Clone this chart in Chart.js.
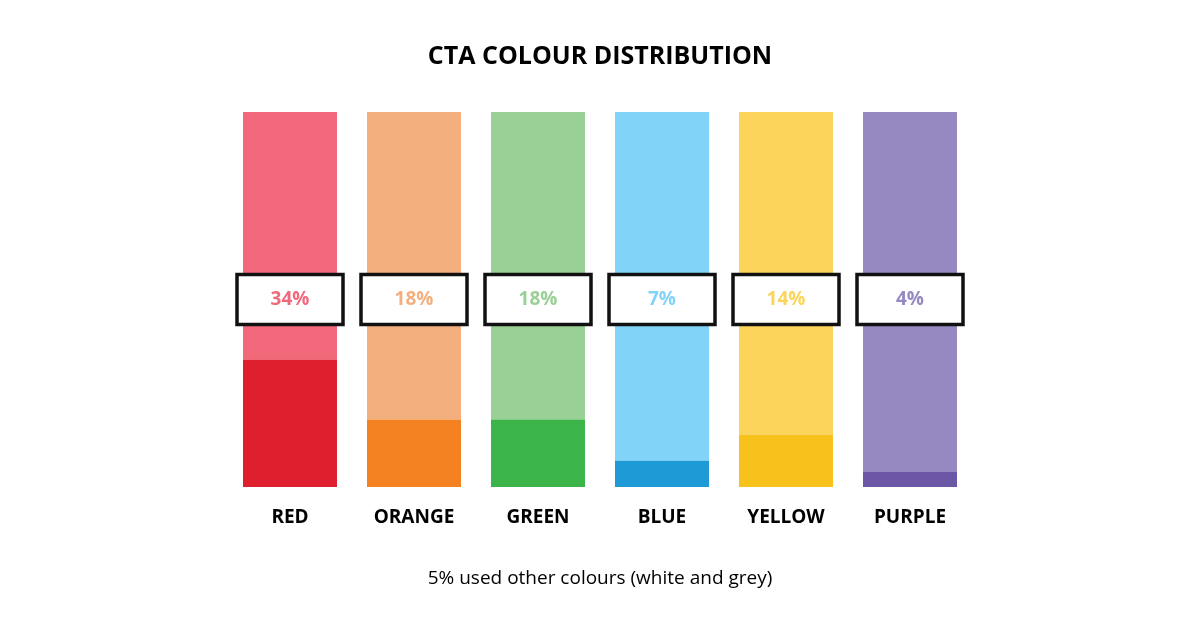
<!DOCTYPE html>
<html>
<head>
<meta charset="utf-8">
<script src="https://cdn.jsdelivr.net/npm/chart.js@4"></script>
<style>
  html, body { margin: 0; padding: 0; background: #fff; }
  #wrap { width: 1200px; height: 627px; position: relative; }
</style>
</head>
<body>
<div id="wrap"><canvas id="ctaChart"></canvas></div>
<script>
const categories = ['RED', 'ORANGE', 'GREEN', 'BLUE', 'YELLOW', 'PURPLE'];
const shares = [34, 18, 18, 7, 14, 4];
const darkColours = ['#df1f2d', '#f58220', '#3bb54a', '#1e9ad6', '#f8c21c', '#6b57a5'];
const lightColours = ['#f2697c', '#f4af7f', '#99d095', '#81d4f7', '#fcd45c', '#9688c1'];

const labelsPlugin = {
    id: 'ctaLabels',
    afterDraw(chart) {
        const ctx = chart.ctx;
        const x = chart.scales.x;
        const y = chart.scales.y;
        const midY = y.getPixelForValue(50);
        ctx.save();
        ctx.textAlign = 'center';
        ctx.textBaseline = 'middle';

        ctx.fillStyle = '#000';
        ctx.font = 'bold 25px "Open Sans"';
        ctx.fillText('CTA COLOUR DISTRIBUTION', 600, 57);

        categories.forEach((cat, i) => {
            const cx = x.getPixelForValue(i);
            // value box
            ctx.fillStyle = '#fff';
            ctx.fillRect(cx - 53, midY - 25, 106, 50);
            ctx.lineWidth = 3.5;
            ctx.strokeStyle = '#111';
            ctx.strokeRect(cx - 53, midY - 25, 106, 50);
            ctx.fillStyle = lightColours[i];
            ctx.font = 'bold 19px "Open Sans"';
            ctx.fillText(shares[i] + '%', cx, midY);
            // category label
            ctx.fillStyle = '#000';
            ctx.font = 'bold 19px "Open Sans"';
            ctx.fillText(cat, cx, 518);
        });

        ctx.font = '19px "Open Sans"';
        ctx.fillStyle = '#000';
        ctx.fillText('5% used other colours (white and grey)', 600, 579);
        ctx.restore();
    }
};

new Chart(document.getElementById('ctaChart'), {
    type: 'bar',
    data: {
        labels: categories,
        datasets: [
            {
                data: shares,
                backgroundColor: darkColours,
                barPercentage: 0.758,
                categoryPercentage: 1
            },
            {
                data: shares.map(v => 100 - v),
                backgroundColor: lightColours,
                barPercentage: 0.758,
                categoryPercentage: 1
            }
        ]
    },
    options: {
        responsive: true,
        maintainAspectRatio: false,
        animation: false,
        layout: { padding: { left: 228, right: 228, top: 112, bottom: 140 } },
        plugins: { legend: { display: false }, tooltip: { enabled: false } },
        scales: {
            x: { stacked: true, display: false },
            y: { stacked: true, display: false, min: 0, max: 100 }
        }
    },
    plugins: [labelsPlugin]
});
</script>
</body>
</html>
